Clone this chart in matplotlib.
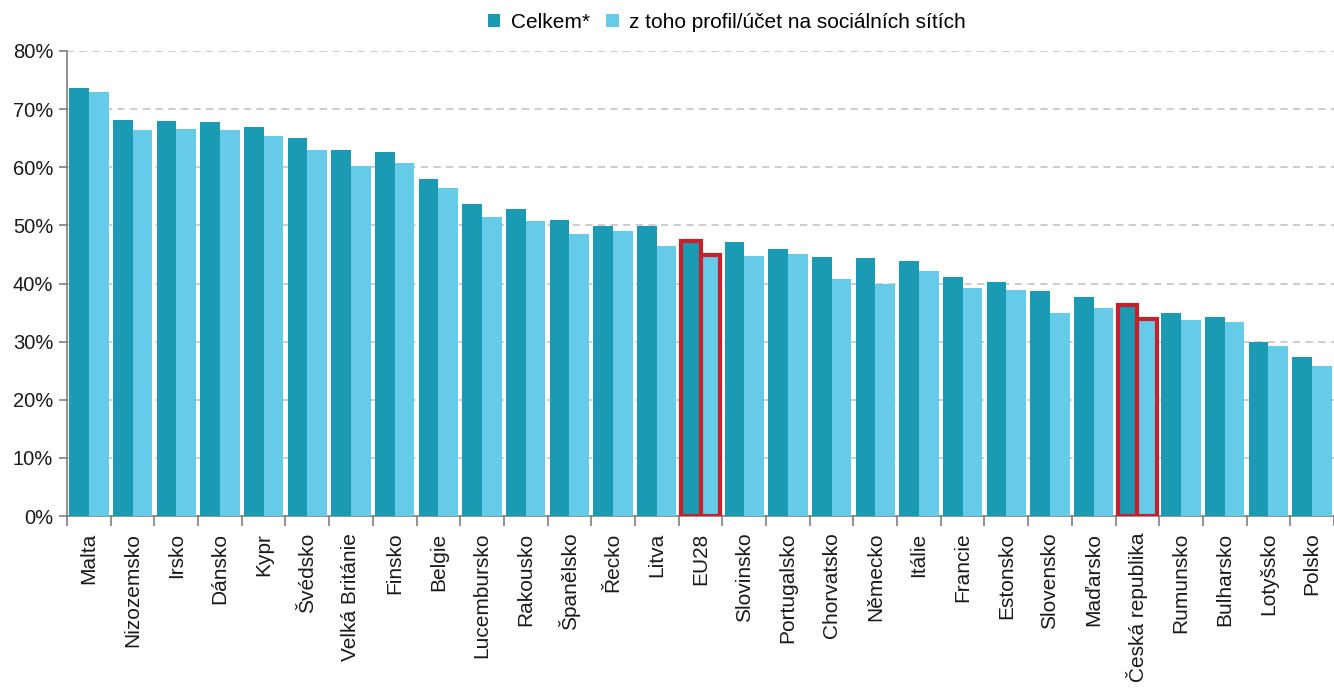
import numpy as np
import matplotlib
matplotlib.use("Agg")
import matplotlib.pyplot as plt
from matplotlib.ticker import FixedLocator, PercentFormatter

plt.rcParams["font.family"] = ["Liberation Sans", "DejaVu Sans"]

zeme = ["Malta", "Nizozemsko", "Irsko", "Dánsko", "Kypr", "Švédsko",
        "Velká Británie", "Finsko", "Belgie", "Lucembursko", "Rakousko",
        "Španělsko", "Řecko", "Litva", "EU28", "Slovinsko", "Portugalsko",
        "Chorvatsko", "Německo", "Itálie", "Francie", "Estonsko", "Slovensko",
        "Maďarsko", "Česká republika", "Rumunsko", "Bulharsko", "Lotyšsko",
        "Polsko"]
celkem = [73.7, 68.2, 68.0, 67.8, 66.9, 65.1, 63.0, 62.7, 57.9, 53.6, 52.9,
          51.0, 49.9, 49.9, 47.3, 47.1, 46.0, 44.6, 44.4, 43.9, 41.2, 40.3,
          38.7, 37.7, 36.3, 35.0, 34.3, 29.9, 27.4]
profil = [73.0, 66.4, 66.6, 66.4, 65.3, 63.0, 60.2, 60.7, 56.5, 51.5, 50.8,
          48.5, 49.0, 46.5, 44.9, 44.8, 45.1, 40.7, 40.0, 42.1, 39.3, 38.9,
          35.0, 35.7, 33.9, 33.8, 33.4, 29.2, 25.8]
zvyraznit = ["EU28", "Česká republika"]

tmava = "#1b9bb3"
svetla = "#66cbe9"
cervena = "#c8202a"
seda = "#7f7f7f"

fig = plt.figure(figsize=(13.34, 6.88), dpi=100)
ax = fig.add_axes([67 / 1334, 1 - 516 / 688, 1 - 67 / 1334, (516 - 51) / 688])

x = np.arange(len(zeme))
w = 0.45
b1 = ax.bar(x - w / 2, celkem, w, color=tmava, label="Celkem*", zorder=3)
b2 = ax.bar(x + w / 2, profil, w, color=svetla,
            label="z toho profil/účet na sociálních sítích", zorder=3)

for i, z in enumerate(zeme):
    if z in zvyraznit:
        for b in (b1[i], b2[i]):
            b.set_edgecolor(cervena)
            b.set_linewidth(3)
            b.set_zorder(4)

ax.set_ylim(0, 80)
ax.set_xlim(-0.5, len(zeme) - 0.5)
ax.set_yticks(np.arange(0, 81, 10))
ax.yaxis.set_major_formatter(PercentFormatter(decimals=0))
ax.yaxis.grid(True, linestyle=(0, (4, 3)), color="#c8c8c8", linewidth=1.3, zorder=0)

ax.set_xticks(x)
ax.set_xticklabels(zeme, rotation=90, fontsize=15, color="#1a1a1a")
ax.xaxis.set_minor_locator(FixedLocator(np.arange(-0.5, len(zeme), 1)))
ax.tick_params(axis="x", which="major", length=0, pad=12)
ax.tick_params(axis="x", which="minor", length=7, color=seda, width=1.2)
ax.tick_params(axis="y", labelsize=14.5, labelcolor="#1a1a1a", length=6,
               color=seda, width=1.2, pad=4)

for s in ("top", "right"):
    ax.spines[s].set_visible(False)
ax.spines["left"].set_color(seda)
ax.spines["bottom"].set_color(seda)
ax.spines["left"].set_linewidth(1.2)
ax.spines["bottom"].set_linewidth(1.2)

fig.legend(loc="center", bbox_to_anchor=(727 / 1334, 1 - 22 / 688), ncol=2,
           frameon=False, fontsize=15, handlelength=0.6, handleheight=0.6,
           handletextpad=0.5, columnspacing=0.8)

fig.savefig("out.png", dpi=100)
